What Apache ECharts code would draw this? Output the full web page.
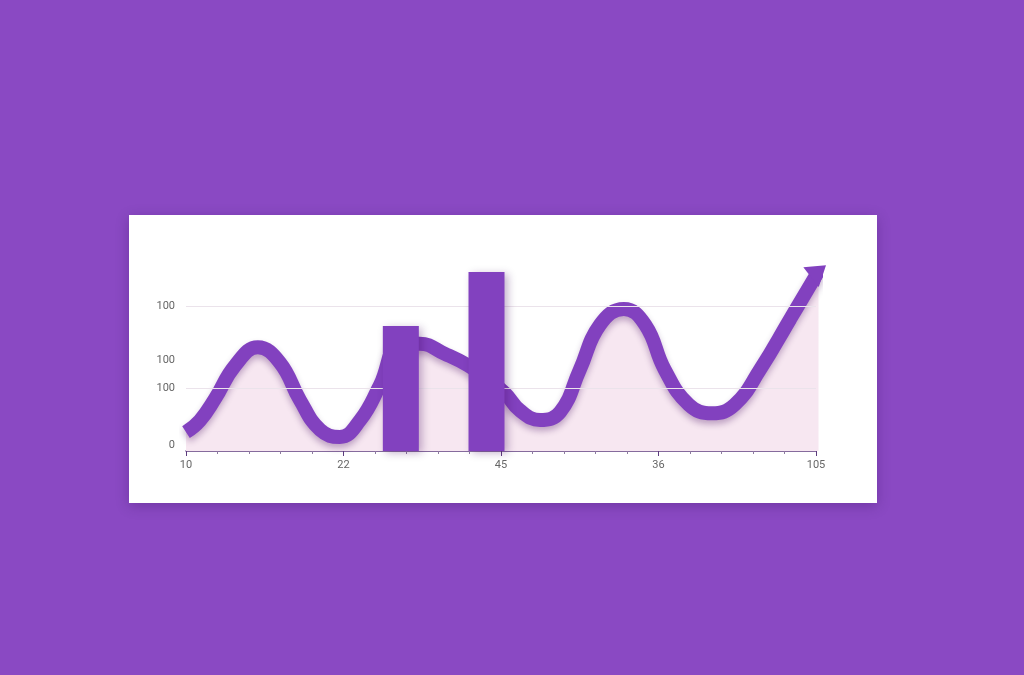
<!DOCTYPE html>
<html>
<head>
<meta charset="utf-8">
<script src="https://cdn.jsdelivr.net/npm/echarts@6/dist/echarts.min.js"></script>
<style>
html,body{margin:0;padding:0;background:#8a49c3;}
#c{width:1024px;height:675px;}
</style>
</head>
<body>
<div id="c"></div>
<script>
// ---- data ----
const xTickValues = [0, 25, 50, 75, 100];
const xTickLabels = ['10', '22', '45', '36', '105'];
const yLabelValues = [4, 43.4, 62.8, 100];
const yLabelTexts = ['0', '100', '100', '100'];
const gridLineValues = [43.4, 100];

const lineX = [0, 2.2, 4.6, 7.8, 11.4, 14.9, 18.1, 21.3, 24.4, 27.6, 30.8, 34, 37.1, 41.1, 44.8, 47.7, 50.6, 53, 56.2, 59.4, 62.5, 65.7, 69.5, 72.9, 76, 79.8, 83.5, 87.1, 91.1, 95.9, 100.4];
const lineY = [13, 21, 36, 59, 71.5, 61, 35, 14.5, 9.7, 21, 45.5, 74, 74, 67, 59, 50, 40, 28, 21.4, 27, 56, 87, 98, 87, 56, 32, 26, 32, 56, 91, 124];

const barX = [34.1, 47.7];
const barY = [86.2, 123.4];

const purple = '#8241bf';

const chart = echarts.init(document.getElementById('c'));
const lineData = lineX.map((x, i) => {
  const last = i === lineX.length - 1;
  return last ? {
    value: [x, lineY[i]],
    symbol: 'triangle',
    symbolSize: [25, 19],
    symbolRotate: -52,
    itemStyle: {color: purple, opacity: 1}
  } : {value: [x, lineY[i]], symbol: 'none'};
});

chart.setOption({
  backgroundColor: '#8a49c3',
  animation: false,
  graphic: [{
    type: 'rect',
    z: -10,
    shape: {x: 129, y: 215, width: 748, height: 288},
    style: {fill: '#ffffff', shadowBlur: 12, shadowColor: 'rgba(40,0,70,0.25)', shadowOffsetY: 3}
  }],
  grid: {left: 186, right: 208, top: 262.5, bottom: 224},
  xAxis: {
    type: 'value', min: 0, max: 100, interval: 25,
    axisLine: {show: true, lineStyle: {color: '#5d3b7e', width: 1.5}},
    axisTick: {show: true, length: 5, inside: false, lineStyle: {color: '#5d3b7e'}},
    minorTick: {show: true, splitNumber: 5, length: 3, lineStyle: {color: '#8d7aa0'}},
    splitLine: {show: false},
    axisLabel: {
      color: '#666', fontSize: 11, margin: 9, fontFamily: 'Roboto',
      formatter: v => { const i = xTickValues.indexOf(v); return i >= 0 ? xTickLabels[i] : ''; }
    }
  },
  yAxis: {
    type: 'value', min: 0, max: 130,
    axisLine: {show: false}, axisTick: {show: false}, splitLine: {show: false},
    axisLabel: {
      color: '#666', fontSize: 11, margin: 11, fontFamily: 'Roboto',
      customValues: yLabelValues,
      formatter: v => { const i = yLabelValues.indexOf(v); return i >= 0 ? yLabelTexts[i] : ''; }
    }
  },
  series: [{
    type: 'line',
    z: 2,
    clip: false,
    smooth: 0.45,
    data: lineData,
    lineStyle: {color: purple, width: 14, shadowBlur: 6, shadowColor: 'rgba(60,0,90,0.3)', shadowOffsetY: 4},
    itemStyle: {color: purple},
    areaStyle: {color: '#f7e7f1', opacity: 1},
    markLine: {
      silent: true, symbol: 'none', label: {show: false},
      lineStyle: {color: '#ebe3eb', width: 1, type: 'solid'},
      data: gridLineValues.map(v => ({yAxis: v}))
    }
  }, {
    type: 'bar',
    z: 5,
    barWidth: 36,
    data: barX.map((x, i) => [x, barY[i]]),
    itemStyle: {color: purple, shadowBlur: 8, shadowColor: 'rgba(60,0,90,0.3)', shadowOffsetX: 3, shadowOffsetY: 2}
  }]
});
</script>
</body>
</html>
